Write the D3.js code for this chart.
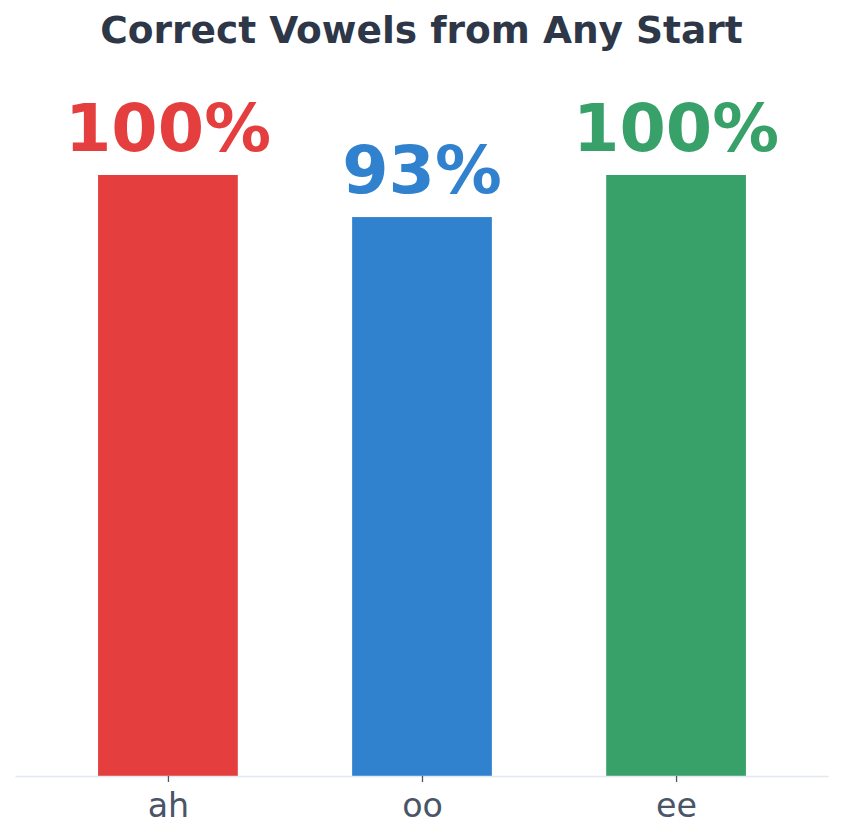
<!DOCTYPE html>
<html>
<head>
<meta charset="utf-8">
<script src="https://cdn.jsdelivr.net/npm/d3@7"></script>
<style>
  html, body { margin: 0; padding: 0; background: #ffffff; }
  svg { display: block; }
</style>
</head>
<body>
<svg id="chart" width="843" height="840"></svg>
<script>
const categories = ["ah", "oo", "ee"];
const values = [100, 93, 100];
const valueLabels = ["100%", "93%", "100%"];
const colors = ["#e53e3e", "#3182ce", "#38a169"];
const title = "Correct Vowels from Any Start";

const W = 843, H = 840;
const svg = d3.select("#chart");
const font = "'DejaVu Sans', sans-serif";

const x = d3.scaleLinear().domain([-0.6, 2.6]).range([15.5, 828.5]);
const y = d3.scaleLinear().domain([0, 100]).range([776, 175]);
const barW = 0.55;

svg.append("text")
  .attr("x", 421.5).attr("y", 43)
  .attr("text-anchor", "middle")
  .attr("font-family", font).attr("font-weight", "bold")
  .attr("font-size", 37.5).attr("fill", "#2d3748")
  .text(title);

svg.selectAll("rect.bar").data(values).enter().append("rect")
  .attr("class", "bar")
  .attr("x", (d, i) => x(i - barW / 2))
  .attr("width", (d, i) => x(i + barW / 2) - x(i - barW / 2))
  .attr("y", d => y(d))
  .attr("height", d => y(0) - y(d))
  .attr("fill", (d, i) => colors[i]);

svg.selectAll("text.val").data(values).enter().append("text")
  .attr("class", "val")
  .attr("x", (d, i) => x(i))
  .attr("y", d => y(d) - 24.5)
  .attr("text-anchor", "middle")
  .attr("font-family", font).attr("font-weight", "bold")
  .attr("font-size", 66.7)
  .attr("fill", (d, i) => colors[i])
  .text((d, i) => valueLabels[i]);

// x axis
const axis = d3.axisBottom(x)
  .tickValues(d3.range(categories.length))
  .tickFormat(i => categories[i])
  .tickSize(6)
  .tickPadding(11);
const g = svg.append("g").attr("transform", `translate(0,${y(0)})`).call(axis);
g.select(".domain").attr("stroke", "#e2e8f0").attr("stroke-width", 1.3)
  .attr("d", `M${x(-0.6)},0.5H${x(2.6)}`);
g.selectAll(".tick line").attr("stroke", "#4a5568").attr("stroke-width", 1.3);
g.selectAll(".tick text")
  .attr("font-family", font).attr("font-size", 33.3)
  .attr("fill", "#4a5568");
</script>
</body>
</html>
